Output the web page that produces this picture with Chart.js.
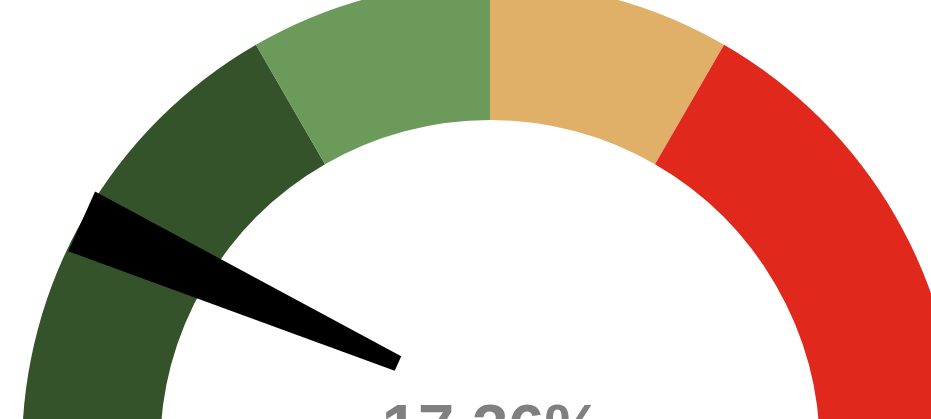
<!DOCTYPE html>
<html>
<head>
<meta charset="utf-8">
<script src="https://cdn.jsdelivr.net/npm/chart.js@4.4.1/dist/chart.umd.min.js"></script>
<style>
  html, body { margin: 0; padding: 0; width: 931px; height: 419px; overflow: hidden; background: #fff; }
  #wrap { position: absolute; left: 22px; top: -18px; width: 936px; height: 468px; }
</style>
</head>
<body>
<div id="wrap"><canvas id="gauge"></canvas></div>
<script>
// gauge bands (percent of the dial) and the needle reading
const bandLabels = ['Low', 'Moderate', 'Elevated', 'High'];
const bandSizes  = [33.33, 16.67, 16.67, 33.33];
const gaugeMax   = 100;
const needleValue = 17.36;
const bandColors = ['#35532a', '#6b9a5a', '#e1b068', '#e0291c'];

// needle + readout drawn on top of the half doughnut
const needlePlugin = {
  id: 'needle',
  afterDatasetsDraw(chart) {
    const arc = chart.getDatasetMeta(0).data[0];
    if (!arc) return;
    const ctx = chart.ctx;
    const cx = arc.x, cy = arc.y, R = arc.outerRadius;
    const a = -Math.PI + (needleValue / gaugeMax) * Math.PI;
    const deg = Math.PI / 180;
    // wide end sits on the rim, narrow end toward the hub
    const wa = a - 2 * deg, na = a + 12 * deg;
    const wx = cx + R * Math.cos(wa), wy = cy + R * Math.sin(wa);
    const nx = cx + R * 0.27 * Math.cos(na), ny = cy + R * 0.27 * Math.sin(na);
    const dir = Math.atan2(wy - ny, wx - nx);
    const px = Math.cos(dir + Math.PI / 2), py = Math.sin(dir + Math.PI / 2);
    const ww = R * 0.07, nw = R * 0.017;
    ctx.save();
    ctx.fillStyle = '#000';
    ctx.beginPath();
    ctx.moveTo(wx + px * ww, wy + py * ww);
    ctx.lineTo(wx - px * ww, wy - py * ww);
    ctx.lineTo(nx - px * nw, ny - py * nw);
    ctx.lineTo(nx + px * nw, ny + py * nw);
    ctx.closePath();
    ctx.fill();

    ctx.fillStyle = '#808080';
    ctx.font = 'bold 65px "Liberation Sans", Arial, sans-serif';
    ctx.textAlign = 'center';
    ctx.textBaseline = 'alphabetic';
    ctx.fillText(needleValue.toFixed(2) + '%', cx + 2, cy);
    ctx.restore();
  }
};

new Chart(document.getElementById('gauge'), {
  type: 'doughnut',
  data: {
    labels: bandLabels,
    datasets: [{ data: bandSizes, backgroundColor: bandColors, borderWidth: 0, hoverOffset: 0 }]
  },
  options: {
    responsive: true,
    maintainAspectRatio: false,
    rotation: -90,
    circumference: 180,
    cutout: '70.5%',
    animation: false,
    layout: { padding: 0 },
    plugins: { legend: { display: false }, tooltip: { enabled: false } }
  },
  plugins: [needlePlugin]
});
</script>
</body>
</html>
